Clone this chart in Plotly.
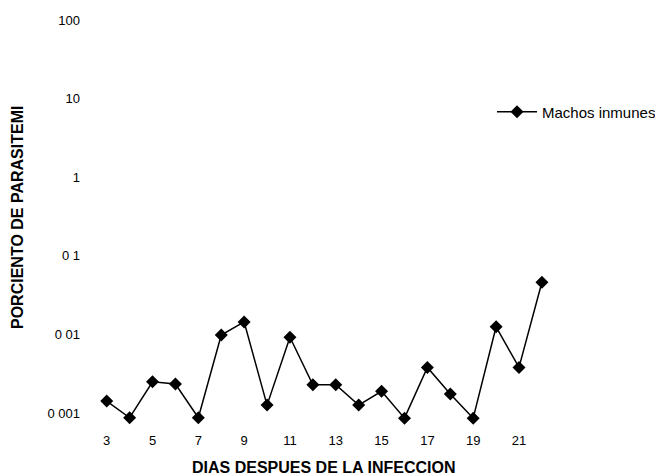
import plotly.graph_objects as go

days = list(range(3, 23))
parasitemia = [0.00142, 0.00087, 0.0025, 0.00234, 0.00087, 0.0098, 0.0144, 0.00126,
               0.0092, 0.00229, 0.00229, 0.00126, 0.00189, 0.00086, 0.0038, 0.00175,
               0.00086, 0.0125, 0.0038, 0.046]
series_name = "Machos inmunes"
y_tickvals = [0.001, 0.01, 0.1, 1, 10, 100]
y_ticktext = ["0 001", "0 01", "0 1", "1", "10", "100"]
x_tickvals = [3, 5, 7, 9, 11, 13, 15, 17, 19, 21]
x_ticktext = [str(v) for v in x_tickvals]

font_family = "Liberation Sans, Arial, sans-serif"

# page has an 8px body margin; work in page pixels, convert to figure pixels
OFF = 8
W, H = 663 - OFF, 475 - OFF
PL, PR, PT, PB = 90, 560, 20, 420          # plot area in page pixels
L, R, T, B = PL - OFF, W - (PR - OFF), PT - OFF, H - (PB - OFF)
pw = PR - PL
ph = PB - PT

def px_x(x):
    return (x - PL) / pw

def px_y(y):
    return 1 - (y - PT) / ph

fig = go.Figure()
fig.add_trace(go.Scatter(
    x=days, y=parasitemia, name=series_name, mode="lines+markers",
    line=dict(color="black", width=1.5),
    marker=dict(symbol="diamond", size=10, color="black"),
    cliponaxis=False,
))

fig.update_layout(
    width=W, height=H,
    margin=dict(l=L, r=R, t=T, b=B, autoexpand=False),
    paper_bgcolor="white", plot_bgcolor="white",
    font=dict(family=font_family, color="black", size=12),
    showlegend=True,
    legend=dict(x=px_x(492), y=px_y(112), xanchor="left", yanchor="middle",
                font=dict(size=15, color="black"), bgcolor="rgba(0,0,0,0)",
                itemwidth=40),
    xaxis=dict(range=[2.27, 22.79], tickvals=x_tickvals, ticktext=x_ticktext,
               showgrid=False, zeroline=False, showline=False, ticks="",
               ticklabelstandoff=11, tickfont=dict(size=13, color="black")),
    yaxis=dict(type="log", range=[-3.089, 2.0], tickvals=y_tickvals, ticktext=y_ticktext,
               showgrid=False, zeroline=False, showline=False, ticks="",
               ticklabelstandoff=9, tickfont=dict(size=13, color="black")),
    annotations=[
        dict(text="<b>DIAS DESPUES DE LA INFECCION</b>", x=px_x(323), y=px_y(467),
             xref="paper", yref="paper", showarrow=False, xanchor="center", yanchor="middle",
             font=dict(size=16, color="black")),
        dict(text="<b>PORCIENTO DE PARASITEMI</b>", x=px_x(17), y=px_y(218), textangle=-90,
             xref="paper", yref="paper", showarrow=False, xanchor="center", yanchor="middle",
             font=dict(size=16, color="black")),
    ],
)

fig.write_html("out.html")
